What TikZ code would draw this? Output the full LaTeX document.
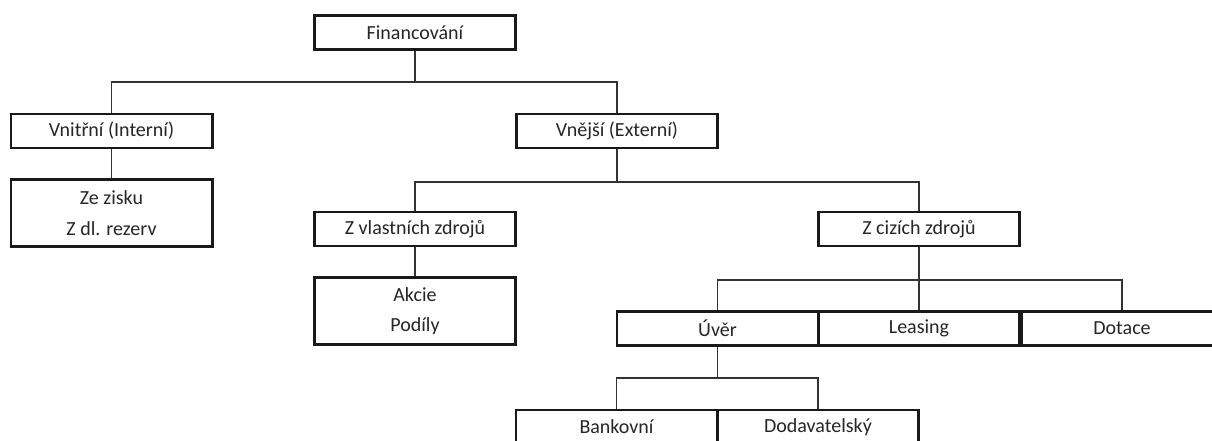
\documentclass[tikz,border=0pt]{standalone}
\usepackage{fontspec}
\setmainfont{Carlito}
\begin{document}
\begin{tikzpicture}[x=0.75pt,y=-0.75pt,
	box/.style={draw=black!90,line width=2pt,fill=white,minimum width=151pt,
		minimum height=25.5pt,inner sep=0pt,text=black!85,
		font=\fontsize{15}{18}\selectfont},
	tallbox/.style={box,minimum height=50pt,align=center},
	link/.style={draw=black!80,line width=0.9pt}]
	\useasboundingbox (0,0) rectangle (1212,440);
	% boxes
	\node[box] (fin) at (415,32.5) {Financování};
	\node[box] (vni) at (111.5,131) {Vnitřní (Interní)};
	\node[box] (vne) at (617,131) {Vnější (Externí)};
	\node[tallbox] (zisku) at (111.5,213) {Ze zisku\\[5pt]Z dl. rezerv};
	\node[box] (zvl) at (415,229) {Z vlastních zdrojů};
	\node[tallbox] (akcie) at (415,311) {Akcie\\[5pt]Podíly};
	\node[box] (zci) at (919,229) {Z cizích zdrojů};
	\node[box] (uver) at (717.5,328.5) {Úvěr};
	\node[box] (leasing) at (919,328.5) {Leasing};
	\node[box] (dotace) at (1122,328.5) {Dotace};
	\node[box] (bank) at (616.5,427) {Bankovní};
	\node[box] (dodav) at (818,427) {Dodavatelský};
	% junctions
	\coordinate (j-fin) at (415,82);
	\coordinate (j-vne) at (617,182);
	\coordinate (j-zci) at (919,280);
	\coordinate (j-uver) at (717.5,378);
	% connectors
	\draw[link] (fin.south) -- (j-fin) -| (vni.north);
	\draw[link] (j-fin) -| (vne.north);
	\draw[link] (vni) -- (zisku);
	\draw[link] (vne.south) -- (j-vne) -| (zvl.north);
	\draw[link] (j-vne) -| (zci.north);
	\draw[link] (zvl) -- (akcie);
	\draw[link] (zci.south) -- (j-zci) -| (uver.north);
	\draw[link] (j-zci) -| (dotace.north);
	\draw[link] (j-zci) -- (leasing.north);
	\draw[link] (uver.south) -- (j-uver) -| (bank.north);
	\draw[link] (j-uver) -| (dodav.north);
\end{tikzpicture}
\end{document}
